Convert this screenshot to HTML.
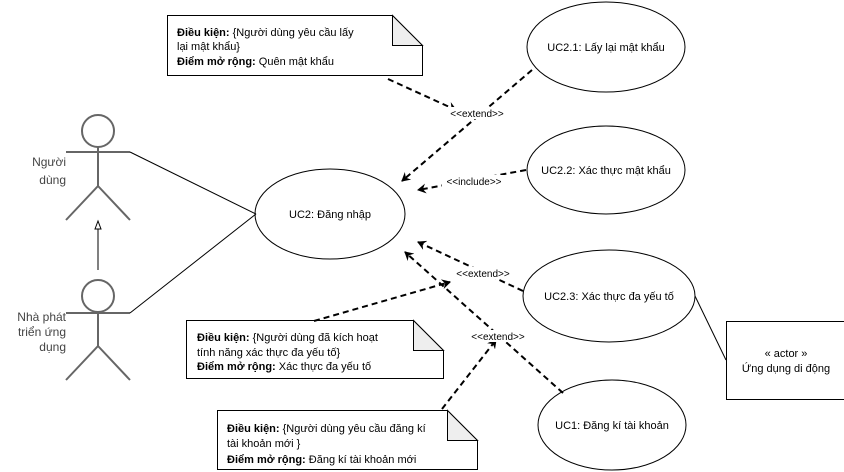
<!DOCTYPE html>
<html><head><meta charset="utf-8"><style>
body{margin:0;background:#fff}
svg{display:block}
text{font-family:"Liberation Sans",sans-serif;font-size:11px;fill:#000}
.s{font-size:10px}
</style></head><body>
<svg width="844" height="472" viewBox="0 0 844 472">
<defs>
<marker id="a" markerWidth="10" markerHeight="10" refX="8" refY="5" orient="auto" markerUnits="userSpaceOnUse">
<path d="M0,0 L9,5 L0,10 L3,5 Z" fill="#000"/>
</marker>
</defs>
<g fill="#fff" stroke="#000" stroke-width="1">
<ellipse cx="606" cy="47" rx="79" ry="45"/>
<ellipse cx="606" cy="170" rx="79" ry="44"/>
<ellipse cx="330" cy="214" rx="75" ry="45"/>
<ellipse cx="609" cy="296" rx="86" ry="46"/>
<ellipse cx="612" cy="425" rx="74" ry="45"/>
<rect x="726.5" y="321.5" width="120" height="78"/>
<path d="M167.5,15.5 H392.5 L422.5,45.5 V75.5 H167.5 Z"/>
<path d="M392.5,15.5 V45.5 H422.5 Z" fill="#eee"/>
<path d="M186.5,320.5 H413.5 L443.5,350.5 V378.5 H186.5 Z"/>
<path d="M413.5,320.5 V350.5 H443.5 Z" fill="#eee"/>
<path d="M217.5,410.5 H447.5 L477.5,440.5 V469.5 H217.5 Z"/>
<path d="M447.5,410.5 V440.5 H477.5 Z" fill="#eee"/>
</g>
<g stroke="#666" stroke-width="2" fill="#fff">
<circle cx="98" cy="131" r="16"/>
<path d="M66,152 H130 M98,147 V186 L66,220 M98,186 L130,220" fill="none"/>
<circle cx="98" cy="296" r="16"/>
<path d="M66,313 H130 M98,312 V346 L66,380 M98,346 L130,380" fill="none"/>
</g>
<g stroke="#000" stroke-width="1" fill="none">
<path d="M98,270 V228"/>
<path d="M95,229 L98,221 L101,229 Z" fill="#fff"/>
<path d="M130,152 L256,214"/>
<path d="M130,313 L256,214"/>
<path d="M695,296 L726,360"/>
</g>
<g stroke="#000" stroke-width="2" stroke-dasharray="6,4" fill="none" marker-end="url(#a)">
<path d="M388,79 L456,110"/>
<path d="M532,70 L402,181"/>
<path d="M526,170 L418,190"/>
<path d="M523,291 L418,242"/>
<path d="M314,321 L450,282"/>
<path d="M563,393 L405,252"/>
<path d="M442,409 L496,340"/>
</g>
<g>
<rect x="445" y="107" width="64" height="12" fill="#fff"/>
<rect x="442" y="175" width="64" height="12" fill="#fff"/>
<rect x="451" y="267" width="64" height="12" fill="#fff"/>
<rect x="467" y="330" width="62" height="12" fill="#fff"/>
</g>
<text class="s" x="477" y="117" text-anchor="middle">&lt;&lt;extend&gt;&gt;</text>
<text class="s" x="474" y="185" text-anchor="middle">&lt;&lt;include&gt;&gt;</text>
<text class="s" x="483" y="277" text-anchor="middle">&lt;&lt;extend&gt;&gt;</text>
<text class="s" x="498" y="340" text-anchor="middle">&lt;&lt;extend&gt;&gt;</text>
<text x="606" y="51" text-anchor="middle">UC2.1: Lấy lại mật khẩu</text>
<text x="606" y="174" text-anchor="middle">UC2.2: Xác thực mật khẩu</text>
<text x="330" y="218" text-anchor="middle">UC2: Đăng nhập</text>
<text x="609" y="300" text-anchor="middle">UC2.3: Xác thực đa yếu tố</text>
<text x="612" y="429" text-anchor="middle">UC1: Đăng kí tài khoản</text>
<text x="786" y="357" text-anchor="middle">« actor »</text>
<text x="786" y="372" text-anchor="middle">Ứng dụng di động</text>
<text x="177" y="36"><tspan font-weight="bold">Điều kiện:</tspan> {Người dùng yêu cầu lấy</text>
<text x="177" y="50"> lại mật khẩu}</text>
<text x="177" y="65"><tspan font-weight="bold">Điểm mở rộng:</tspan> Quên mật khẩu</text>
<text x="197" y="341"><tspan font-weight="bold">Điều kiện:</tspan> {Người dùng đã kích hoạt</text>
<text x="197" y="356"> tính năng xác thực đa yếu tố}</text>
<text x="197" y="370"><tspan font-weight="bold">Điểm mở rộng:</tspan> Xác thực đa yếu tố</text>
<text x="227" y="432"><tspan font-weight="bold">Điều kiện:</tspan> {Người dùng yêu cầu đăng kí</text>
<text x="227" y="447">tài khoản mới }</text>
<text x="227" y="463"><tspan font-weight="bold">Điểm mở rộng:</tspan> Đăng kí tài khoản mới</text>
<g fill="#555">
<text x="66" y="166" text-anchor="end" style="fill:#444;font-size:12px">Người</text>
<text x="66" y="184" text-anchor="end" style="fill:#444;font-size:12px">dùng</text>
<text x="66" y="321" text-anchor="end" style="fill:#444;font-size:12px">Nhà phát</text>
<text x="66" y="336" text-anchor="end" style="fill:#444;font-size:12px">triển ứng</text>
<text x="66" y="351" text-anchor="end" style="fill:#444;font-size:12px">dụng</text>
</g>
</svg>
</body></html>
